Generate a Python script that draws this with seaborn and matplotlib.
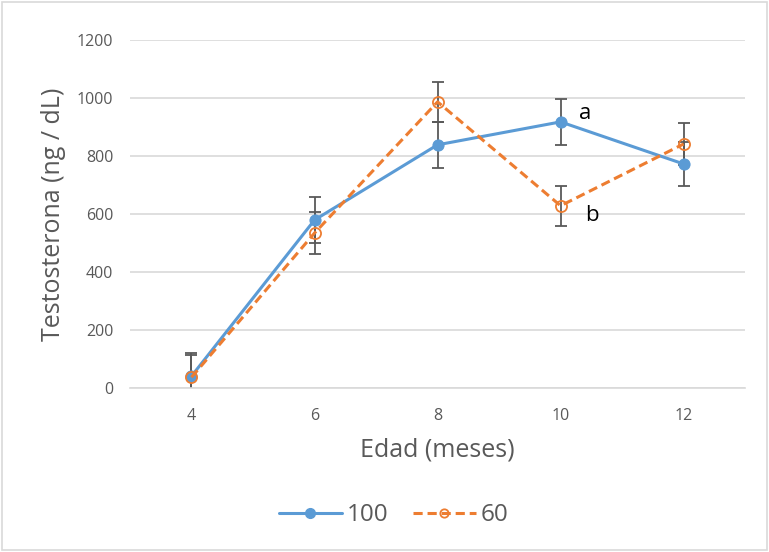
import numpy as np
import pandas as pd
import matplotlib.pyplot as plt
from matplotlib.lines import Line2D
import seaborn as sns

# data
edad = [4, 6, 8, 10, 12]
t100 = [41, 579, 838, 917, 772]
err100 = [80, 80, 79, 78, 75]
t60 = [37, 534, 986, 628, 841]
err60 = [77, 72, 70, 68, 73]

sns.set_style('white')
plt.rcParams['font.family'] = ['Open Sans', 'DejaVu Sans']

fig = plt.figure(figsize=(7.69, 5.52), dpi=100)
ax = fig.add_axes([0.169, 0.297, 0.80, 0.631])

blue = '#5B9BD5'
orange = '#ED7D31'
grey = '#595959'

ax.errorbar(edad, t100, yerr=err100, fmt='none', ecolor=grey, elinewidth=1.3,
            capsize=4, capthick=1.3, zorder=2)
ax.errorbar(edad, t60, yerr=err60, fmt='none', ecolor=grey, elinewidth=1.3,
            capsize=4, capthick=1.3, zorder=2)

sns.lineplot(x=edad, y=t100, ax=ax, color=blue, lw=2.2, marker='o', markersize=8,
             markeredgecolor=blue, zorder=3)
sns.lineplot(x=edad, y=t60, ax=ax, color=orange, lw=2.2, dashes=(3, 1.6), marker='o',
             markersize=8, markerfacecolor='none', markeredgecolor=orange,
             markeredgewidth=1.3, zorder=4)

ax.text(10.3, 945, 'a', fontsize=16, color='black', ha='left', va='center')
ax.text(10.4, 595, 'b', fontsize=16, color='black', ha='left', va='center')

ax.set_xlim(3, 13)
ax.set_ylim(0, 1200)
ax.set_xticks(edad)
ax.set_yticks(range(0, 1201, 200))
ax.tick_params(axis='both', length=0, labelsize=11.5, labelcolor=grey)
ax.tick_params(axis='x', pad=14)
ax.tick_params(axis='y', pad=12)
ax.grid(axis='y', color='#D9D9D9', lw=1.2)
for s in ['top', 'right', 'left']:
    ax.spines[s].set_visible(False)
ax.spines['bottom'].set_color('#D9D9D9')
ax.spines['bottom'].set_linewidth(1.2)

ax.set_xlabel('Edad (meses)', fontsize=18, color=grey, labelpad=10)
ax.set_ylabel('Testosterona (ng / dL)', fontsize=18, color=grey, labelpad=8)

h = [Line2D([], [], color=blue, lw=2.2, marker='o', markersize=7),
     Line2D([], [], color=orange, lw=2.2, dashes=(3, 1.6), marker='o', markersize=6,
            markerfacecolor='none', markeredgewidth=1.3)]
fig.legend(h, ['100', '60'], loc='center', bbox_to_anchor=(0.512, 0.067), ncol=2,
           frameon=False, fontsize=17.5, labelcolor=grey, handlelength=2.6,
           columnspacing=1.0, handletextpad=0.2)

fig.patches.append(plt.Rectangle((0.003, 0.003), 0.994, 0.994, transform=fig.transFigure,
                                 fill=False, edgecolor='#D9D9D9', lw=1.2))

fig.savefig('out.png', dpi=100)
